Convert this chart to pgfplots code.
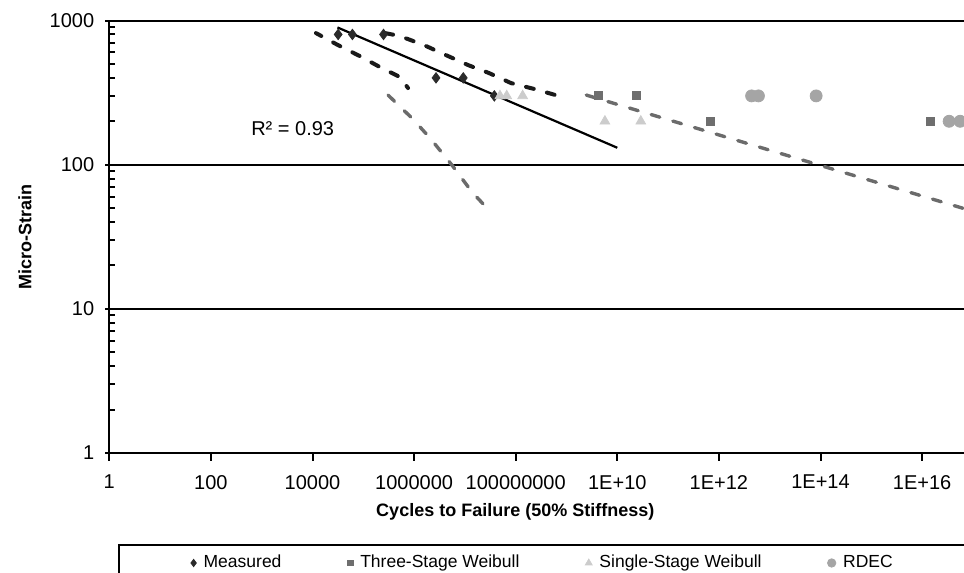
\documentclass[border=0pt]{standalone}
\usepackage{fontspec}
\setmainfont{Liberation Sans}
\usepackage{pgfplots}
\pgfplotsset{compat=1.18}
\definecolor{meas}{HTML}{2B2B2B}
\definecolor{blackdash}{HTML}{1A1A1A}
\definecolor{graydash}{HTML}{6B6B6B}
\definecolor{three}{HTML}{6E6E6E}
\definecolor{single}{HTML}{CCCCCC}
\definecolor{rdec}{HTML}{A5A5A5}
\begin{document}
\begin{tikzpicture}
\begin{axis}[
  scale only axis, width=427.35pt, height=216.25pt,
  xmode=log, ymode=log,
  xmin=1, xmax=6.68e16, ymin=1, ymax=1000,
  axis x line*=bottom, axis y line*=left,
  axis line style={line width=1pt, black},
  xtick={1,1e2,1e4,1e6,1e8,1e10,1e12,1e14,1e16},
  xticklabels={1,100,10000,1000000,100000000,1E+10,1E+12,1E+14,1E+16},
  ytick={1,10,100,1000}, yticklabels={1,10,100,1000},
  xminorticks=false,
  tick align=center, major tick length=4pt, minor tick length=2.75pt,
  every tick/.style={black, line width=1pt},
  every major x tick/.append style={yshift=-2pt},
  every minor y tick/.append style={xshift=1.375pt},
  ymajorgrids, major grid style={black, line width=1pt},
  tick label style={font=\fontsize{10}{12}\selectfont},
  xticklabel style={yshift=-5.5pt},
  yticklabel style={xshift=-2pt},
  xlabel={Cycles to Failure (50\% Stiffness)}, ylabel={Micro-Strain},
  label style={font=\bfseries\fontsize{9}{11}\selectfont},
  xlabel style={at={(axis description cs:0.475,-0.136)}, anchor=center},
  ylabel style={at={(axis description cs:-0.0986,0.5)}, anchor=center},
  clip=true,
  legend columns=4,
  legend cell align=left,
  legend style={draw=none, fill=none, at={(axis description cs:0.0950,-0.2543)}, anchor=west,
    font=\fontsize{8.75}{10}\selectfont, inner xsep=0pt, inner ysep=0pt,
    nodes={inner xsep=3.65pt},
    /tikz/every even column/.append style={column sep=29.3pt}},
  legend image code/.code={\draw[#1, every mark/.append style={scale=0.7}] plot coordinates {(0pt,0pt)};},
]
% fitted / model curves
\addplot[black, line width=1.1pt, forget plot] coordinates {(3.1e4,895) (1e10,131)};
\addplot[blackdash, line width=2pt, line cap=round, dash pattern=on 4pt off 6.8pt, forget plot]
  coordinates {(2.7e5,818) (5.25e5,780) (1.57e6,675) (4.25e6,575) (1.15e7,491) (2.98e7,432) (8.1e7,368) (2.4e8,334) (7.4e8,298)};
\addplot[blackdash, line width=2pt, line cap=round, dash pattern=on 4pt off 6.8pt, dash phase=1pt, forget plot]
  coordinates {(1.17e4,818) (3.18e4,675) (8.6e4,566) (2.13e5,475) (5.3e5,405) (7.6e5,340)};
\addplot[graydash, line width=1.7pt, line cap=round, dash pattern=on 4.5pt off 6.8pt, forget plot]
  coordinates {(3.07e5,304) (9.1e5,210) (2.06e6,153) (5.6e6,99) (1.38e7,64.6) (2.72e7,50)};
\addplot[graydash, line width=1.7pt, line cap=round, dash pattern=on 4.5pt off 6.8pt, forget plot]
  coordinates {(2.45e9,304) (1e17,47.5)};
% data points
\addplot[only marks, mark=diamond*, mark size=2.6pt, color=meas]
  coordinates {(3.2e4,800) (6.1e4,800) (2.5e5,800) (2.7e6,400) (9.3e6,400) (3.8e7,300)};
\addlegendentry{Measured}
\addplot[only marks, mark=square*, mark size=2pt, color=three]
  coordinates {(4.2e9,300) (2.4e10,300) (6.7e11,200) (1.43e16,200)};
\addlegendentry{Three-Stage Weibull}
\addplot[only marks, mark=triangle*, mark size=2.8pt, color=single]
  coordinates {(4.9e7,300) (6.65e7,300) (1.37e8,300) (5.7e9,200) (2.9e10,200)};
\addlegendentry{Single-Stage Weibull}
\addplot[only marks, mark=*, mark size=3pt, color=rdec]
  coordinates {(4.4e12,300) (6.0e12,300) (8.2e13,300) (3.4e16,200) (5.6e16,200)};
\addlegendentry{RDEC}
\node[font=\fontsize{10}{12}\selectfont] at (axis cs:4070,176.5) {R² = 0.93};
\end{axis}
\draw[line width=1pt] (5pt,-90pt) |- (450pt,-46pt);
\pgfresetboundingbox
\useasboundingbox (-54.65pt,-60pt) rectangle (427.35pt,226.5pt);
\end{tikzpicture}
\end{document}
